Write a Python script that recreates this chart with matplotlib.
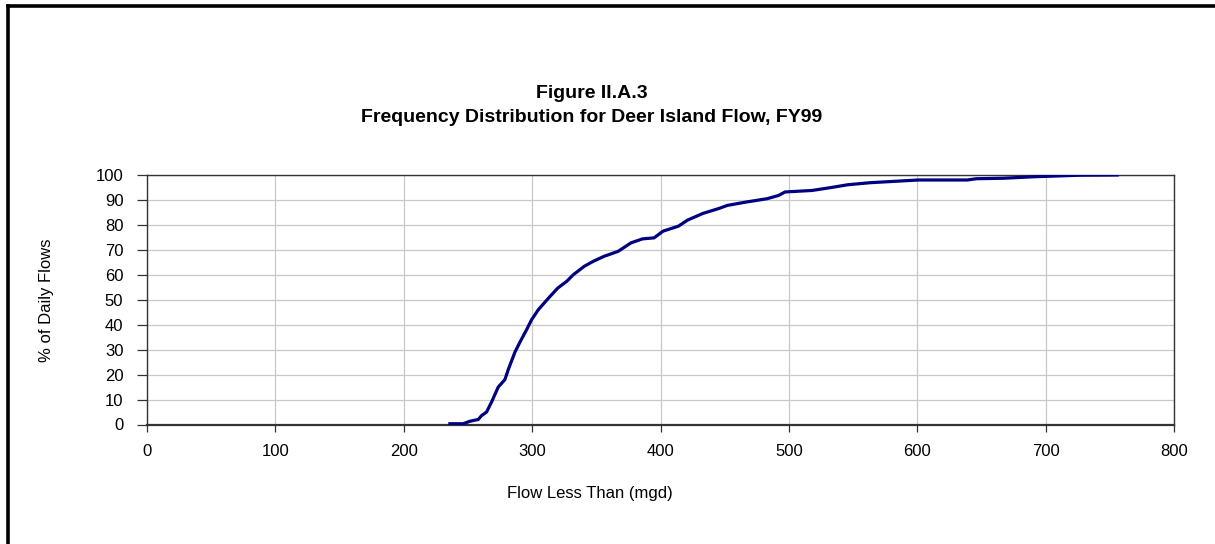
import matplotlib
matplotlib.use("Agg")
import matplotlib.pyplot as plt
from matplotlib.lines import Line2D

# ---- data ----
flow = [234.7, 246.3, 251.5, 258, 260.7, 264.5, 268.4, 273.6, 278.8, 281.4,
        284, 286.6, 290.5, 295.7, 299.6, 304.8, 312.5, 320, 327, 332,
        340.6, 347.6, 356, 367, 377, 386, 395, 402, 414, 421,
        433, 445, 452, 466, 483, 492, 497, 518, 532, 546,
        563, 587, 601, 639, 646, 667, 691, 726, 757]
pct = [0.3, 0.3, 1.3, 2, 3.6, 5, 9, 15, 18, 22,
       25.5, 29, 33, 38, 42, 46, 50.5, 54.7, 57.4, 60,
       63.4, 65.4, 67.4, 69.4, 72.8, 74.4, 74.8, 77.5, 79.5, 81.9,
       84.6, 86.5, 87.8, 89.1, 90.5, 91.8, 93.2, 93.8, 94.9, 96.1,
       96.9, 97.6, 98, 98, 98.5, 98.7, 99.3, 99.9, 100]

x_ticks = [0, 100, 200, 300, 400, 500, 600, 700, 800]
y_ticks = [0, 10, 20, 30, 40, 50, 60, 70, 80, 90, 100]

title_lines = ["Figure II.A.3", "Frequency Distribution for Deer Island Flow, FY99"]
x_label = "Flow Less Than (mgd)"
y_label = "% of Daily Flows"

plt.rcParams['font.family'] = ['Liberation Sans', 'DejaVu Sans']

W, H = 1215, 544
fig = plt.figure(figsize=(W / 100, H / 100), dpi=100)

ax_left, ax_right, ax_top, ax_bot = 147, 1174, 175, 424.5
ax = fig.add_axes([ax_left / W, 1 - ax_bot / H, (ax_right - ax_left) / W, (ax_bot - ax_top) / H])

ax.plot(flow, pct, color='#000080', linewidth=2.3, solid_capstyle='butt', zorder=3)

ax.set_xlim(0, 800)
ax.set_ylim(0, 100)
ax.set_xticks(x_ticks)
ax.set_yticks(y_ticks)
ax.set_xticklabels([str(v) for v in x_ticks])
ax.set_yticklabels([str(v) for v in y_ticks])
ax.grid(True, color='#c8c8c8', linewidth=0.9)
ax.set_axisbelow(True)

ax.tick_params(axis='y', direction='out', length=7, width=0.9, color='#333333',
               labelsize=12, pad=10)
ax.tick_params(axis='x', direction='out', length=5, width=0.9, color='#333333',
               labelsize=12, pad=9)
for s in ['top', 'right', 'left']:
    ax.spines[s].set_color('#333333')
    ax.spines[s].set_linewidth(1.0)
ax.spines['bottom'].set_color('#333333')
ax.spines['bottom'].set_linewidth(1.6)

ax.set_xlabel(x_label, fontsize=12)
ax.set_ylabel(y_label, fontsize=12)
ax.xaxis.set_label_coords((590 - ax_left) / (ax_right - ax_left), -(494 - ax_bot) / (ax_bot - ax_top))
ax.yaxis.set_label_coords(-(ax_left - 46) / (ax_right - ax_left), 0.5)
ax.xaxis.label.set_va('center')
ax.yaxis.label.set_va('center')

fig.text(592 / W, 1 - 93 / H, title_lines[0], ha='center', va='center',
         fontsize=14, fontweight='bold')
fig.text(592 / W, 1 - 117 / H, title_lines[1], ha='center', va='center',
         fontsize=14, fontweight='bold')

# outer chart border (left and top visible)
bx, by = 7.5 / W, 1 - 5.5 / H
fig.add_artist(Line2D([bx, bx], [0, by], transform=fig.transFigure, color='black',
                      linewidth=2.6, solid_capstyle='projecting'))
fig.add_artist(Line2D([bx, 1.0], [by, by], transform=fig.transFigure, color='black',
                      linewidth=2.6, solid_capstyle='projecting'))

fig.savefig('out.png', dpi=100)
